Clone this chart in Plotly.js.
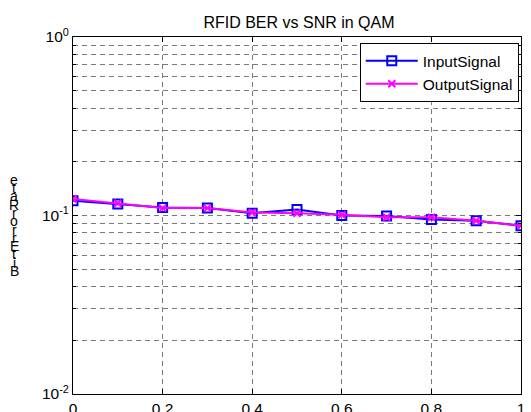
<!DOCTYPE html>
<html>
<head>
<meta charset="utf-8">
<script src="https://cdn.plot.ly/plotly-3.0.1.min.js"></script>
<style>html,body{margin:0;padding:0;background:#fff;}#chart{width:531px;height:412px;}</style>
</head>
<body>
<div id="chart"></div>
<script>
const snr = [0, 0.1, 0.2, 0.3, 0.4, 0.5, 0.6, 0.7, 0.8, 0.9, 1.0];
const inputBER = [0.121, 0.116, 0.111, 0.110, 0.103, 0.108, 0.100, 0.0995, 0.095, 0.0935, 0.0877];
const outputBER = [0.1236, 0.117, 0.110, 0.110, 0.104, 0.103, 0.101, 0.0977, 0.0977, 0.0935, 0.0877];
const xTicks = [0, 0.2, 0.4, 0.6, 0.8, 1];
const xTickText = ['0', '0.2', '0.4', '0.6', '0.8', '1'];
const yDecades = [0.01, 0.1, 1];
const yDecadeText = ['10<sup>-2</sup>', '10<sup>-1</sup>', '10<sup>0</sup>'];
const yLabel = 'BitErrorRate';
const titleText = 'RFID BER vs SNR in QAM';

// minor log positions (2..9 within each decade)
const yMinorVals = [];
for (let d = 0; d < yDecades.length - 1; d++) {
  for (let m = 2; m <= 9; m++) yMinorVals.push(yDecades[d] * m);
}

const fam = 'Liberation Sans, Arial, sans-serif';
const font = {family: fam, size: 15.5, color: '#000'};
const gridStyle = {gridcolor: '#7a7a7a', griddash: '5px,4px', gridwidth: 1};

const traces = [
  {x: snr, y: inputBER, name: 'InputSignal', mode: 'lines+markers',
   line: {color: '#0000ff', width: 2},
   marker: {symbol: 'square-open', size: 9, color: '#0000ff', line: {width: 2, color: '#0000ff'}}},
  {x: snr, y: outputBER, name: 'OutputSignal', mode: 'lines+markers',
   line: {color: '#ff00ff', width: 2},
   marker: {symbol: 'x-thin-open', size: 7, color: '#ff00ff', line: {width: 2, color: '#ff00ff'}}}
];

// stacked-letter y label (overlapping characters, bottom to top as in the reference)
const annotations = [];
const plotTop = 37, plotBot = 394, plotH = plotBot - plotTop;
const letterStep = 8.3, labelBottom = 271;
for (let i = 0; i < yLabel.length; i++) {
  const ypx = labelBottom - i * letterStep;
  annotations.push({text: yLabel[i], xref: 'paper', yref: 'paper',
    x: (14 - 73) / 448, y: (plotBot - ypx) / plotH,
    xanchor: 'center', yanchor: 'middle', showarrow: false,
    font: {family: fam, size: 14, color: '#000'}});
}

const layout = {
  width: 531, height: 412,
  margin: {l: 73, r: 10, t: 37, b: 18},
  paper_bgcolor: '#fff', plot_bgcolor: '#fff',
  font: font,
  showlegend: true,
  title: {text: titleText, font: {family: fam, size: 16, color: '#000'},
          x: 299 / 531, xanchor: 'center', y: 1 - 22 / 412, yanchor: 'middle'},
  xaxis: Object.assign({range: [0, 1], tickmode: 'array', tickvals: xTicks, ticktext: xTickText,
          showline: true, linecolor: '#000', linewidth: 1, mirror: 'ticks',
          ticks: 'inside', ticklen: 5, tickcolor: '#000',
          showgrid: true, zeroline: false, tickfont: font}, gridStyle),
  yaxis: Object.assign({type: 'log', range: [-2, 0], tickmode: 'array', tickvals: yDecades, ticktext: yDecadeText,
          showline: true, linecolor: '#000', linewidth: 1, mirror: 'ticks',
          ticks: 'inside', ticklen: 5, tickcolor: '#000',
          showgrid: true, zeroline: false, tickfont: font,
          minor: Object.assign({tickmode: 'array', tickvals: yMinorVals, ticks: 'inside', ticklen: 3,
                 tickcolor: '#000', showgrid: true}, gridStyle)}, gridStyle),
  legend: {x: 0.995, xanchor: 'right', y: 0.983, yanchor: 'top',
           bgcolor: '#fff', bordercolor: '#000', borderwidth: 1,
           font: {family: fam, size: 15.5, color: '#000'},
           tracegroupgap: 0, itemwidth: 52},
  annotations: annotations
};

Plotly.newPlot('chart', traces, layout, {staticPlot: true, displayModeBar: false});
</script>
</body>
</html>
